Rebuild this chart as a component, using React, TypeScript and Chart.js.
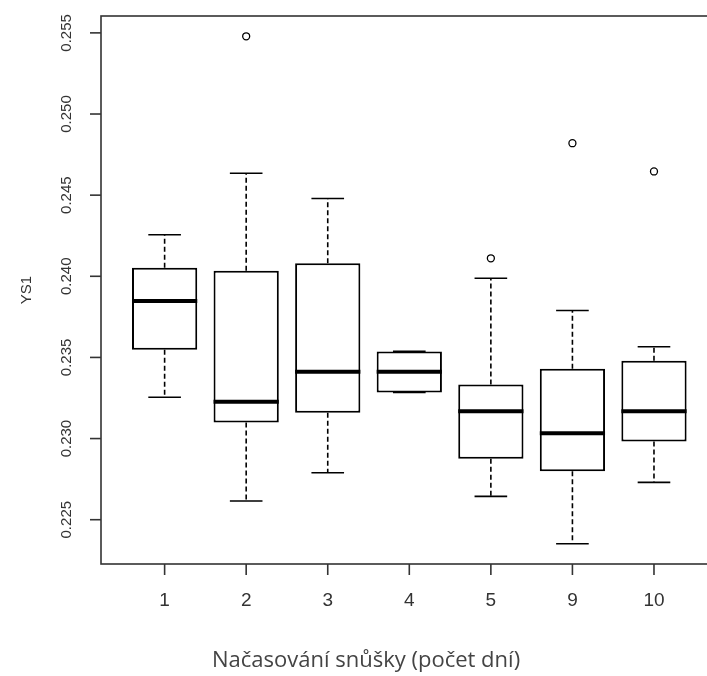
import React, { useEffect, useRef } from "react";
import { Chart, registerables } from "chart.js";

Chart.register(...registerables);

// ---- data ----
const categories = ["1", "2", "3", "4", "5", "9", "10"];
const lowerWhisker = [0.23255, 0.22615, 0.22789, 0.23284, 0.22644, 0.22352, 0.2273];
const quartile1 = [0.23547, 0.23099, 0.23159, 0.23284, 0.22876, 0.22799, 0.22982];
const medians = [0.23847, 0.23227, 0.23412, 0.23412, 0.23169, 0.23032, 0.23169];
const quartile3 = [0.24052, 0.24034, 0.24081, 0.23537, 0.23333, 0.2343, 0.23479];
const upperWhisker = [0.24256, 0.24635, 0.24479, 0.23537, 0.23988, 0.23789, 0.23566];
const outlierCategory = ["2", "5", "9", "10"];
const outlierValues = [0.25479, 0.24111, 0.2482, 0.24646];
const yTicks = [0.225, 0.23, 0.235, 0.24, 0.245, 0.25, 0.255];
const yTickLabels = ["0.225", "0.230", "0.235", "0.240", "0.245", "0.250", "0.255"];
const yTitle = "YS1";
const xTitle = "Načasování snůšky (počet dní)";

const pos = (cat: string) => categories.indexOf(cat) + 1;

const boxExtras = {
  id: "boxExtras",
  afterDatasetsDraw(chart: any) {
    const ctx = chart.ctx;
    const xs = chart.scales.x;
    const ys = chart.scales.y;
    const step = xs.getPixelForValue(2) - xs.getPixelForValue(1);
    const boxW = step * 0.8;
    const capW = boxW * 0.5;
    ctx.save();
    ctx.strokeStyle = "#000";
    categories.forEach((_, i) => {
      const x = xs.getPixelForValue(i + 1);
      const yLo = ys.getPixelForValue(lowerWhisker[i]);
      const yQ1 = ys.getPixelForValue(quartile1[i]);
      const yMed = ys.getPixelForValue(medians[i]);
      const yQ3 = ys.getPixelForValue(quartile3[i]);
      const yHi = ys.getPixelForValue(upperWhisker[i]);
      ctx.lineWidth = 1.6;
      ctx.setLineDash([5, 3]);
      ctx.beginPath();
      ctx.moveTo(x, yQ3);
      ctx.lineTo(x, yHi);
      ctx.moveTo(x, yQ1);
      ctx.lineTo(x, yLo);
      ctx.stroke();
      ctx.setLineDash([]);
      ctx.beginPath();
      ctx.moveTo(x - capW / 2, yHi);
      ctx.lineTo(x + capW / 2, yHi);
      ctx.moveTo(x - capW / 2, yLo);
      ctx.lineTo(x + capW / 2, yLo);
      ctx.stroke();
      ctx.lineWidth = 4;
      ctx.lineCap = "butt";
      ctx.beginPath();
      ctx.moveTo(x - boxW / 2, yMed);
      ctx.lineTo(x + boxW / 2, yMed);
      ctx.stroke();
    });
    ctx.restore();
  },
  afterDraw(chart: any) {
    const ctx = chart.ctx;
    const xs = chart.scales.x;
    const ys = chart.scales.y;
    const a = chart.chartArea;
    ctx.save();
    ctx.strokeStyle = "#333";
    ctx.lineWidth = 1.6;
    ctx.strokeRect(a.left, a.top, a.right - a.left, a.bottom - a.top);
    const tick = 11;
    ctx.fillStyle = "#333";
    // y ticks and labels
    ctx.font = "15px 'Liberation Sans', Arial, sans-serif";
    ctx.textAlign = "center";
    ctx.textBaseline = "middle";
    yTicks.forEach((v, i) => {
      const y = ys.getPixelForValue(v);
      ctx.beginPath();
      ctx.moveTo(a.left, y);
      ctx.lineTo(a.left - tick, y);
      ctx.stroke();
      ctx.save();
      ctx.translate(a.left - 34, y);
      ctx.rotate(-Math.PI / 2);
      ctx.fillText(yTickLabels[i], 0, 0);
      ctx.restore();
    });
    // y title
    ctx.save();
    ctx.translate(27, (a.top + a.bottom) / 2);
    ctx.rotate(-Math.PI / 2);
    ctx.fillText(yTitle, 0, 0);
    ctx.restore();
    // x ticks and labels
    ctx.font = "19px 'Liberation Sans', Arial, sans-serif";
    categories.forEach((c, i) => {
      const x = xs.getPixelForValue(i + 1);
      ctx.beginPath();
      ctx.moveTo(x, a.bottom);
      ctx.lineTo(x, a.bottom + tick);
      ctx.stroke();
      ctx.fillText(c, x, a.bottom + 37);
    });
    // x title
    ctx.fillStyle = "#444";
    ctx.font = "22px 'Open Sans', sans-serif";
    ctx.textAlign = "left";
    ctx.textBaseline = "alphabetic";
    ctx.fillText(xTitle, 212, 667);
    ctx.restore();
  },
};

export default function App() {
  const ref = useRef<HTMLCanvasElement | null>(null);
  useEffect(() => {
    if (!ref.current) return;
    const chart = new Chart(ref.current, {
      type: "bar",
      data: {
        datasets: [
          {
            type: "scatter",
            data: outlierCategory.map((c, i) => ({ x: pos(c), y: outlierValues[i] })),
            pointRadius: 3.5,
            pointBorderWidth: 1.3,
            pointBorderColor: "#000",
            pointBackgroundColor: "#fff",
          } as any,
          {
            type: "bar",
            data: categories.map((_, i) => ({ x: i + 1, y: [quartile1[i], quartile3[i]] })),
            backgroundColor: "#fff",
            borderColor: "#000",
            borderWidth: 2,
            borderSkipped: false,
            categoryPercentage: 0.8,
            barPercentage: 1,
          } as any,
        ],
      },
      options: {
        responsive: false,
        animation: false,
        events: [],
        layout: { padding: { left: 101, top: 16, right: 12.4, bottom: 112 } },
        plugins: { legend: { display: false }, tooltip: { enabled: false } },
        scales: {
          x: {
            type: "linear",
            display: false,
            min: 0.22,
            max: 7.78,
            offset: false,
            afterBuildTicks: (s: any) => {
              s.ticks = categories.map((_, i) => ({ value: i + 1 }));
            },
          },
          y: {
            type: "linear",
            display: false,
            min: 0.22227,
            max: 0.25604,
            afterBuildTicks: (s: any) => {
              s.ticks = yTicks.map((v) => ({ value: v }));
            },
          },
        },
      },
      plugins: [boxExtras],
    });
    return () => chart.destroy();
  }, []);
  return (
    <div
      style={{
        position: "fixed",
        left: 0,
        top: 0,
        width: 707,
        height: 676,
        overflow: "hidden",
        background: "#fff",
      }}
    >
      <canvas ref={ref} width={730} height={676} style={{ display: "block" }} />
    </div>
  );
}
